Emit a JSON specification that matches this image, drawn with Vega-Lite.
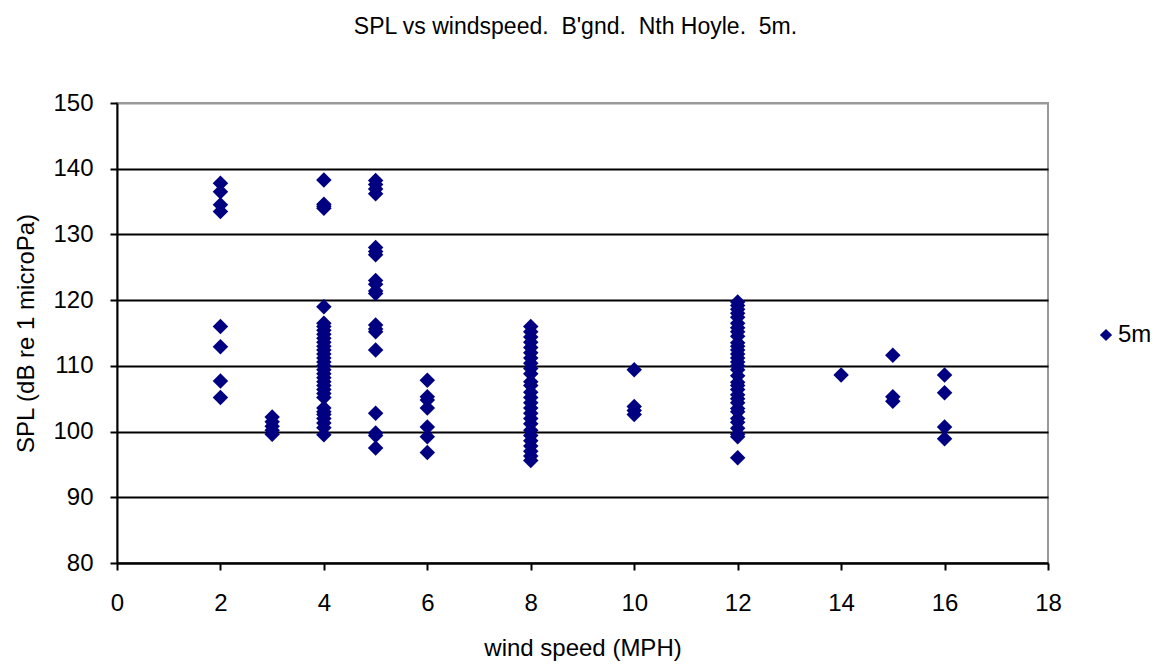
{
  "$schema": "https://vega.github.io/schema/vega-lite/v6.json",
  "width": 931,
  "height": 460,
  "autosize": {"type": "none"},
  "padding": {"left": 117, "top": 103, "right": 118, "bottom": 101},
  "background": "white",
  "title": {
    "text": "SPL vs windspeed. \u00a0B'gnd. \u00a0Nth Hoyle. \u00a05m.",
    "font": "Liberation Sans",
    "fontSize": 23,
    "fontWeight": "normal",
    "color": "black",
    "anchor": "middle",
    "offset": 52,
    "dx": -7
  },
  "config": {
    "view": {"stroke": "#999999", "strokeWidth": 2},
    "font": "Liberation Sans"
  },
  "data": {
    "values": [
      {"speed": 2, "spl": 137.8, "series": "5m"},
      {"speed": 2, "spl": 136.5, "series": "5m"},
      {"speed": 2, "spl": 134.5, "series": "5m"},
      {"speed": 2, "spl": 133.5, "series": "5m"},
      {"speed": 2, "spl": 116.0, "series": "5m"},
      {"speed": 2, "spl": 112.9, "series": "5m"},
      {"speed": 2, "spl": 107.7, "series": "5m"},
      {"speed": 2, "spl": 105.2, "series": "5m"},
      {"speed": 3, "spl": 102.2, "series": "5m"},
      {"speed": 3, "spl": 101.5, "series": "5m"},
      {"speed": 3, "spl": 100.8, "series": "5m"},
      {"speed": 3, "spl": 100.2, "series": "5m"},
      {"speed": 3, "spl": 99.6, "series": "5m"},
      {"speed": 4, "spl": 138.3, "series": "5m"},
      {"speed": 4, "spl": 134.6, "series": "5m"},
      {"speed": 4, "spl": 134.3, "series": "5m"},
      {"speed": 4, "spl": 134.0, "series": "5m"},
      {"speed": 4, "spl": 119.0, "series": "5m"},
      {"speed": 4, "spl": 116.5, "series": "5m"},
      {"speed": 4, "spl": 116.0, "series": "5m"},
      {"speed": 4, "spl": 115.4, "series": "5m"},
      {"speed": 4, "spl": 114.8, "series": "5m"},
      {"speed": 4, "spl": 114.2, "series": "5m"},
      {"speed": 4, "spl": 113.6, "series": "5m"},
      {"speed": 4, "spl": 113.0, "series": "5m"},
      {"speed": 4, "spl": 112.4, "series": "5m"},
      {"speed": 4, "spl": 111.8, "series": "5m"},
      {"speed": 4, "spl": 111.2, "series": "5m"},
      {"speed": 4, "spl": 110.6, "series": "5m"},
      {"speed": 4, "spl": 110.0, "series": "5m"},
      {"speed": 4, "spl": 109.4, "series": "5m"},
      {"speed": 4, "spl": 108.8, "series": "5m"},
      {"speed": 4, "spl": 108.2, "series": "5m"},
      {"speed": 4, "spl": 107.6, "series": "5m"},
      {"speed": 4, "spl": 107.0, "series": "5m"},
      {"speed": 4, "spl": 106.4, "series": "5m"},
      {"speed": 4, "spl": 105.8, "series": "5m"},
      {"speed": 4, "spl": 105.2, "series": "5m"},
      {"speed": 4, "spl": 103.6, "series": "5m"},
      {"speed": 4, "spl": 103.0, "series": "5m"},
      {"speed": 4, "spl": 102.6, "series": "5m"},
      {"speed": 4, "spl": 102.0, "series": "5m"},
      {"speed": 4, "spl": 101.3, "series": "5m"},
      {"speed": 4, "spl": 100.6, "series": "5m"},
      {"speed": 4, "spl": 99.5, "series": "5m"},
      {"speed": 5, "spl": 138.2, "series": "5m"},
      {"speed": 5, "spl": 137.6, "series": "5m"},
      {"speed": 5, "spl": 136.9, "series": "5m"},
      {"speed": 5, "spl": 136.2, "series": "5m"},
      {"speed": 5, "spl": 128.0, "series": "5m"},
      {"speed": 5, "spl": 127.4, "series": "5m"},
      {"speed": 5, "spl": 126.9, "series": "5m"},
      {"speed": 5, "spl": 123.0, "series": "5m"},
      {"speed": 5, "spl": 122.4, "series": "5m"},
      {"speed": 5, "spl": 121.4, "series": "5m"},
      {"speed": 5, "spl": 121.0, "series": "5m"},
      {"speed": 5, "spl": 116.2, "series": "5m"},
      {"speed": 5, "spl": 115.6, "series": "5m"},
      {"speed": 5, "spl": 115.2, "series": "5m"},
      {"speed": 5, "spl": 112.4, "series": "5m"},
      {"speed": 5, "spl": 102.8, "series": "5m"},
      {"speed": 5, "spl": 99.8, "series": "5m"},
      {"speed": 5, "spl": 99.4, "series": "5m"},
      {"speed": 5, "spl": 97.5, "series": "5m"},
      {"speed": 6, "spl": 107.8, "series": "5m"},
      {"speed": 6, "spl": 105.3, "series": "5m"},
      {"speed": 6, "spl": 104.8, "series": "5m"},
      {"speed": 6, "spl": 103.6, "series": "5m"},
      {"speed": 6, "spl": 100.7, "series": "5m"},
      {"speed": 6, "spl": 99.2, "series": "5m"},
      {"speed": 6, "spl": 96.8, "series": "5m"},
      {"speed": 8, "spl": 116.0, "series": "5m"},
      {"speed": 8, "spl": 115.2, "series": "5m"},
      {"speed": 8, "spl": 114.4, "series": "5m"},
      {"speed": 8, "spl": 113.6, "series": "5m"},
      {"speed": 8, "spl": 112.8, "series": "5m"},
      {"speed": 8, "spl": 112.0, "series": "5m"},
      {"speed": 8, "spl": 111.2, "series": "5m"},
      {"speed": 8, "spl": 110.4, "series": "5m"},
      {"speed": 8, "spl": 109.6, "series": "5m"},
      {"speed": 8, "spl": 108.8, "series": "5m"},
      {"speed": 8, "spl": 107.6, "series": "5m"},
      {"speed": 8, "spl": 107.0, "series": "5m"},
      {"speed": 8, "spl": 106.0, "series": "5m"},
      {"speed": 8, "spl": 105.2, "series": "5m"},
      {"speed": 8, "spl": 104.4, "series": "5m"},
      {"speed": 8, "spl": 103.6, "series": "5m"},
      {"speed": 8, "spl": 102.8, "series": "5m"},
      {"speed": 8, "spl": 102.0, "series": "5m"},
      {"speed": 8, "spl": 101.2, "series": "5m"},
      {"speed": 8, "spl": 100.2, "series": "5m"},
      {"speed": 8, "spl": 99.4, "series": "5m"},
      {"speed": 8, "spl": 98.6, "series": "5m"},
      {"speed": 8, "spl": 97.8, "series": "5m"},
      {"speed": 8, "spl": 97.0, "series": "5m"},
      {"speed": 8, "spl": 96.3, "series": "5m"},
      {"speed": 8, "spl": 95.6, "series": "5m"},
      {"speed": 10, "spl": 109.4, "series": "5m"},
      {"speed": 10, "spl": 103.8, "series": "5m"},
      {"speed": 10, "spl": 103.2, "series": "5m"},
      {"speed": 10, "spl": 102.6, "series": "5m"},
      {"speed": 12, "spl": 119.7, "series": "5m"},
      {"speed": 12, "spl": 119.2, "series": "5m"},
      {"speed": 12, "spl": 118.6, "series": "5m"},
      {"speed": 12, "spl": 118.0, "series": "5m"},
      {"speed": 12, "spl": 117.4, "series": "5m"},
      {"speed": 12, "spl": 116.5, "series": "5m"},
      {"speed": 12, "spl": 115.8, "series": "5m"},
      {"speed": 12, "spl": 115.2, "series": "5m"},
      {"speed": 12, "spl": 114.5, "series": "5m"},
      {"speed": 12, "spl": 113.5, "series": "5m"},
      {"speed": 12, "spl": 113.0, "series": "5m"},
      {"speed": 12, "spl": 112.4, "series": "5m"},
      {"speed": 12, "spl": 111.8, "series": "5m"},
      {"speed": 12, "spl": 111.2, "series": "5m"},
      {"speed": 12, "spl": 110.6, "series": "5m"},
      {"speed": 12, "spl": 110.0, "series": "5m"},
      {"speed": 12, "spl": 109.4, "series": "5m"},
      {"speed": 12, "spl": 108.5, "series": "5m"},
      {"speed": 12, "spl": 107.5, "series": "5m"},
      {"speed": 12, "spl": 107.0, "series": "5m"},
      {"speed": 12, "spl": 106.4, "series": "5m"},
      {"speed": 12, "spl": 105.6, "series": "5m"},
      {"speed": 12, "spl": 105.0, "series": "5m"},
      {"speed": 12, "spl": 104.4, "series": "5m"},
      {"speed": 12, "spl": 103.5, "series": "5m"},
      {"speed": 12, "spl": 103.0, "series": "5m"},
      {"speed": 12, "spl": 102.0, "series": "5m"},
      {"speed": 12, "spl": 101.4, "series": "5m"},
      {"speed": 12, "spl": 100.5, "series": "5m"},
      {"speed": 12, "spl": 99.6, "series": "5m"},
      {"speed": 12, "spl": 99.2, "series": "5m"},
      {"speed": 12, "spl": 96.0, "series": "5m"},
      {"speed": 14, "spl": 108.6, "series": "5m"},
      {"speed": 15, "spl": 111.6, "series": "5m"},
      {"speed": 15, "spl": 105.3, "series": "5m"},
      {"speed": 15, "spl": 104.6, "series": "5m"},
      {"speed": 16, "spl": 108.6, "series": "5m"},
      {"speed": 16, "spl": 105.9, "series": "5m"},
      {"speed": 16, "spl": 100.7, "series": "5m"},
      {"speed": 16, "spl": 98.9, "series": "5m"}
    ]
  },
  "mark": {"type": "point", "shape": "diamond", "filled": true, "size": 240, "opacity": 1},
  "encoding": {
    "x": {
      "field": "speed",
      "type": "quantitative",
      "scale": {"domain": [0, 18], "nice": false, "zero": false},
      "axis": {
        "title": "wind speed (MPH)",
        "values": [0, 2, 4, 6, 8, 10, 12, 14, 16, 18],
        "grid": false,
        "labelFlush": false,
        "domainColor": "black",
        "domainWidth": 2,
        "tickColor": "black",
        "tickWidth": 2,
        "tickSize": 7,
        "labelFont": "Liberation Sans",
        "labelFontSize": 24,
        "labelColor": "black",
        "labelPadding": 21,
        "titleFont": "Liberation Sans",
        "titleFontSize": 24,
        "titleFontWeight": "normal",
        "titleColor": "black",
        "titlePadding": 21
      }
    },
    "y": {
      "field": "spl",
      "type": "quantitative",
      "scale": {"domain": [80, 150], "nice": false, "zero": false},
      "axis": {
        "title": "SPL (dB re 1 microPa)",
        "values": [80, 90, 100, 110, 120, 130, 140, 150],
        "grid": true,
        "labelFlush": false,
        "gridColor": {"condition": {"test": "datum.value == 150", "value": "#999999"}, "value": "black"},
        "gridWidth": 2,
        "gridOpacity": 1,
        "domainColor": "black",
        "domainWidth": 2,
        "tickColor": "black",
        "tickWidth": 2,
        "tickSize": 7,
        "labelFont": "Liberation Sans",
        "labelFontSize": 24,
        "labelColor": "black",
        "labelPadding": 17,
        "titleFont": "Liberation Sans",
        "titleFontSize": 24,
        "titleFontWeight": "normal",
        "titleColor": "black",
        "titlePadding": 14
      }
    },
    "color": {
      "field": "series",
      "type": "nominal",
      "scale": {"range": ["#000080"]},
      "legend": {
        "title": null,
        "orient": "none",
        "legendX": 977,
        "legendY": 220,
        "symbolType": "diamond",
        "symbolSize": 150,
        "symbolFillColor": "#000080",
        "symbolStrokeWidth": 0,
        "labelFont": "Liberation Sans",
        "labelFontSize": 24,
        "labelColor": "black",
        "labelOffset": 0
      }
    }
  }
}
